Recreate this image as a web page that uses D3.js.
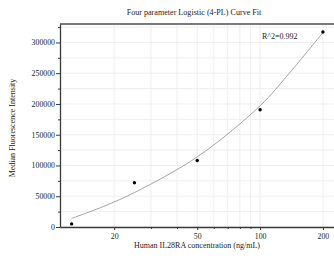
<!DOCTYPE html>
<html><head><meta charset="utf-8">
<script src="https://cdn.jsdelivr.net/npm/d3@7"></script>
<style>body{margin:0;background:#fff}svg{display:block}</style>
</head><body>
<svg id="c" width="334" height="266"></svg>
<script>
const title = "Four parameter Logistic (4-PL) Curve Fit";
const xLabel = "Human IL28RA concentration (ng/mL)";
const yLabel = "Median Fluorescence Intensity";
const r2Label = "R^2=0.992";
const concentrations = [12.5, 25, 50, 100, 200];
const mfiValues = [5000, 72000, 108000, 190500, 317000];
const curveX = [12.5, 17.8, 25, 50, 100, 138, 200];
const curveY = [14000, 33500, 56000, 114000, 197000, 250000, 316000];
const xMajorTicks = [20, 50, 100, 200];
const xMinorTicks = [30, 40, 60, 70, 80, 90];
const yMajorTicks = [0, 50000, 100000, 150000, 200000, 250000, 300000];
const yMinorTicks = [25000, 75000, 125000, 175000, 225000, 275000, 325000];

const svg = d3.select("#c");
const L = 60, R = 334, T = 24, B = 227;
const x = d3.scaleLog().domain([11, 226]).range([L, R]);
const y = d3.scaleLinear().domain([0, 330000]).range([B, T]);
const font = "'Liberation Serif', 'Times New Roman', serif";

// gridlines
const g = svg.append("g");
g.selectAll("line.vg").data(xMajorTicks.concat(xMinorTicks)).join("line")
  .attr("x1", d => x(d)).attr("x2", d => x(d)).attr("y1", T).attr("y2", B)
  .attr("stroke", "#ebebeb").attr("stroke-width", 0.8);
g.selectAll("line.hg").data(yMajorTicks.concat(yMinorTicks)).join("line")
  .attr("x1", L).attr("x2", R).attr("y1", d => y(d)).attr("y2", d => y(d))
  .attr("stroke", "#ebebeb").attr("stroke-width", 0.8);

// top border
svg.append("line").attr("x1", L).attr("x2", R).attr("y1", T).attr("y2", T)
  .attr("stroke", "#7a7a7a").attr("stroke-width", 2);

// axes
const axisColor = "#3a3a3a";
const yAx = svg.append("g").attr("transform", `translate(${L},0)`)
  .call(d3.axisLeft(y).tickValues(yMajorTicks).tickFormat(d3.format("d")).tickSize(4).tickSizeOuter(0));
svg.append("g").attr("transform", `translate(${L},0)`)
  .call(d3.axisLeft(y).tickValues(yMinorTicks).tickFormat("").tickSize(2).tickSizeOuter(0))
  .select(".domain").remove();
const xAx = svg.append("g").attr("transform", `translate(0,${B})`)
  .call(d3.axisBottom(x).tickValues(xMajorTicks).tickFormat(d3.format("d")).tickSize(3).tickSizeOuter(0));
svg.append("g").attr("transform", `translate(0,${B})`)
  .call(d3.axisBottom(x).tickValues(xMinorTicks).tickFormat("").tickSize(2).tickSizeOuter(0))
  .select(".domain").remove();
svg.selectAll(".domain").attr("stroke", axisColor).attr("stroke-width", 1.3);
svg.selectAll(".tick line").attr("stroke", axisColor).attr("stroke-width", 1);
svg.selectAll(".tick text").attr("font-family", font).attr("font-size", 7.8).attr("fill", "#222");
yAx.selectAll(".tick text").attr("x", -5);
xAx.selectAll(".tick text").attr("y", 6);

// curve
const line = d3.line().x(d => x(d[0])).y(d => y(d[1])).curve(d3.curveCatmullRom.alpha(0.5));
svg.append("path").datum(curveX.map((v, i) => [v, curveY[i]]))
  .attr("d", line).attr("fill", "none").attr("stroke", "#9a9a9a").attr("stroke-width", 0.9);

// points
svg.selectAll("circle.pt").data(concentrations).join("circle")
  .attr("cx", d => x(d)).attr("cy", (d, i) => y(mfiValues[i])).attr("r", 1.7).attr("fill", "#000");

// texts
svg.append("text").attr("x", 194).attr("y", 15).attr("text-anchor", "middle")
  .attr("font-family", font).attr("font-size", 8.1).attr("fill", "#222").text(title);
svg.append("text").attr("x", 262).attr("y", 39)
  .attr("font-family", font).attr("font-size", 8).attr("fill", "#222").text(r2Label);
svg.append("text").attr("x", 197).attr("y", 248).attr("text-anchor", "middle")
  .attr("font-family", font).attr("font-size", 8).attr("fill", "#222").text(xLabel);
svg.append("text").attr("transform", "translate(15,128) rotate(-90)").attr("text-anchor", "middle")
  .attr("font-family", font).attr("font-size", 8).attr("fill", "#222").text(yLabel);
</script>
</body></html>
